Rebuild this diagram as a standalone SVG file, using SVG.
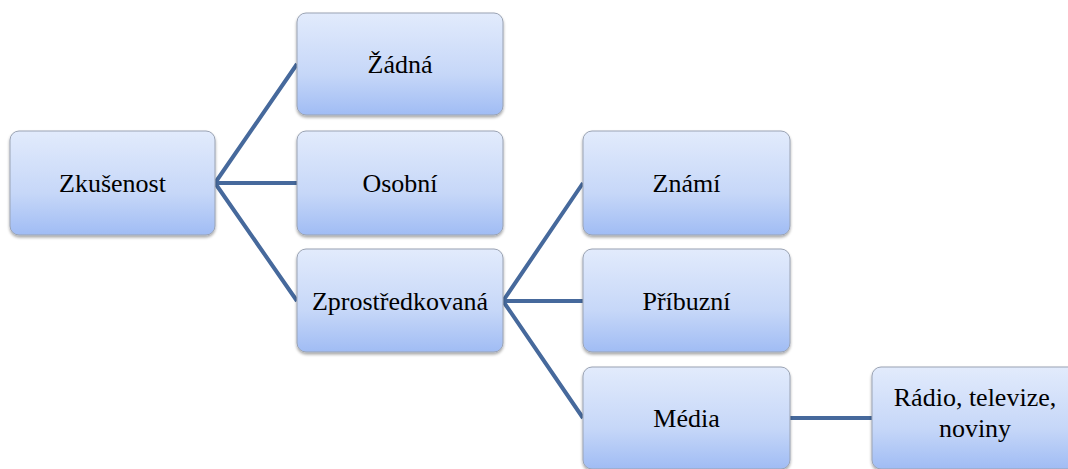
<svg xmlns="http://www.w3.org/2000/svg" width="1068" height="469" viewBox="0 0 1068 469">
<defs>
<linearGradient id="g" x1="0" y1="0" x2="0" y2="1">
<stop offset="0" stop-color="#e2ebfc"/>
<stop offset="0.6" stop-color="#c6d7f8"/>
<stop offset="1" stop-color="#a0bcf4"/>
</linearGradient>
<filter id="sh" x="-10%" y="-10%" width="120%" height="130%">
<feGaussianBlur in="SourceAlpha" stdDeviation="1.5"/>
<feOffset dx="0" dy="2" result="b"/>
<feComponentTransfer><feFuncA type="linear" slope="0.35"/></feComponentTransfer>
<feMerge><feMergeNode/><feMergeNode in="SourceGraphic"/></feMerge>
</filter>
</defs>
<style>
.box{fill:url(#g);stroke:#9aa3b3;stroke-width:1;filter:url(#sh)}
.t{font-family:"Liberation Serif",serif;font-size:26px;fill:#000;text-anchor:middle}
.c{stroke:#46699c;stroke-width:4;fill:none}
</style>
<rect width="1068" height="469" fill="#fff"/>
<g id="connectors">
<path class="c" d="M215,183 L297,64 M215,183 L297,183 M215,183 L297,301"/>
<path class="c" d="M503,301 L583,183 M503,301 L583,301 M503,301 L583,418"/>
<path class="c" d="M790,418 L872,418"/>
</g>
<g id="n-zkusenost"><rect class="box" x="10" y="131" width="205" height="104" rx="9"/><text class="t" x="112.5" y="192">Zkušenost</text></g>
<g id="n-zadna"><rect class="box" x="297" y="13" width="206" height="102" rx="9"/><text class="t" x="400" y="73">Žádná</text></g>
<g id="n-osobni"><rect class="box" x="297" y="131" width="206" height="104" rx="9"/><text class="t" x="400" y="192">Osobní</text></g>
<g id="n-zprostredkovana"><rect class="box" x="297" y="249" width="206" height="103" rx="9"/><text class="t" x="400" y="310">Zprostředkovaná</text></g>
<g id="n-znami"><rect class="box" x="583" y="131" width="207" height="104" rx="9"/><text class="t" x="686.5" y="192">Známí</text></g>
<g id="n-pribuzni"><rect class="box" x="583" y="249" width="207" height="103" rx="9"/><text class="t" x="686.5" y="310">Příbuzní</text></g>
<g id="n-media"><rect class="box" x="583" y="367" width="207" height="102" rx="9"/><text class="t" x="686.5" y="427">Média</text></g>
<g id="n-radio"><rect class="box" x="872" y="367" width="207" height="102" rx="9"/><text class="t" x="975" y="406">Rádio, televize,</text><text class="t" x="975" y="437">noviny</text></g>
</svg>
